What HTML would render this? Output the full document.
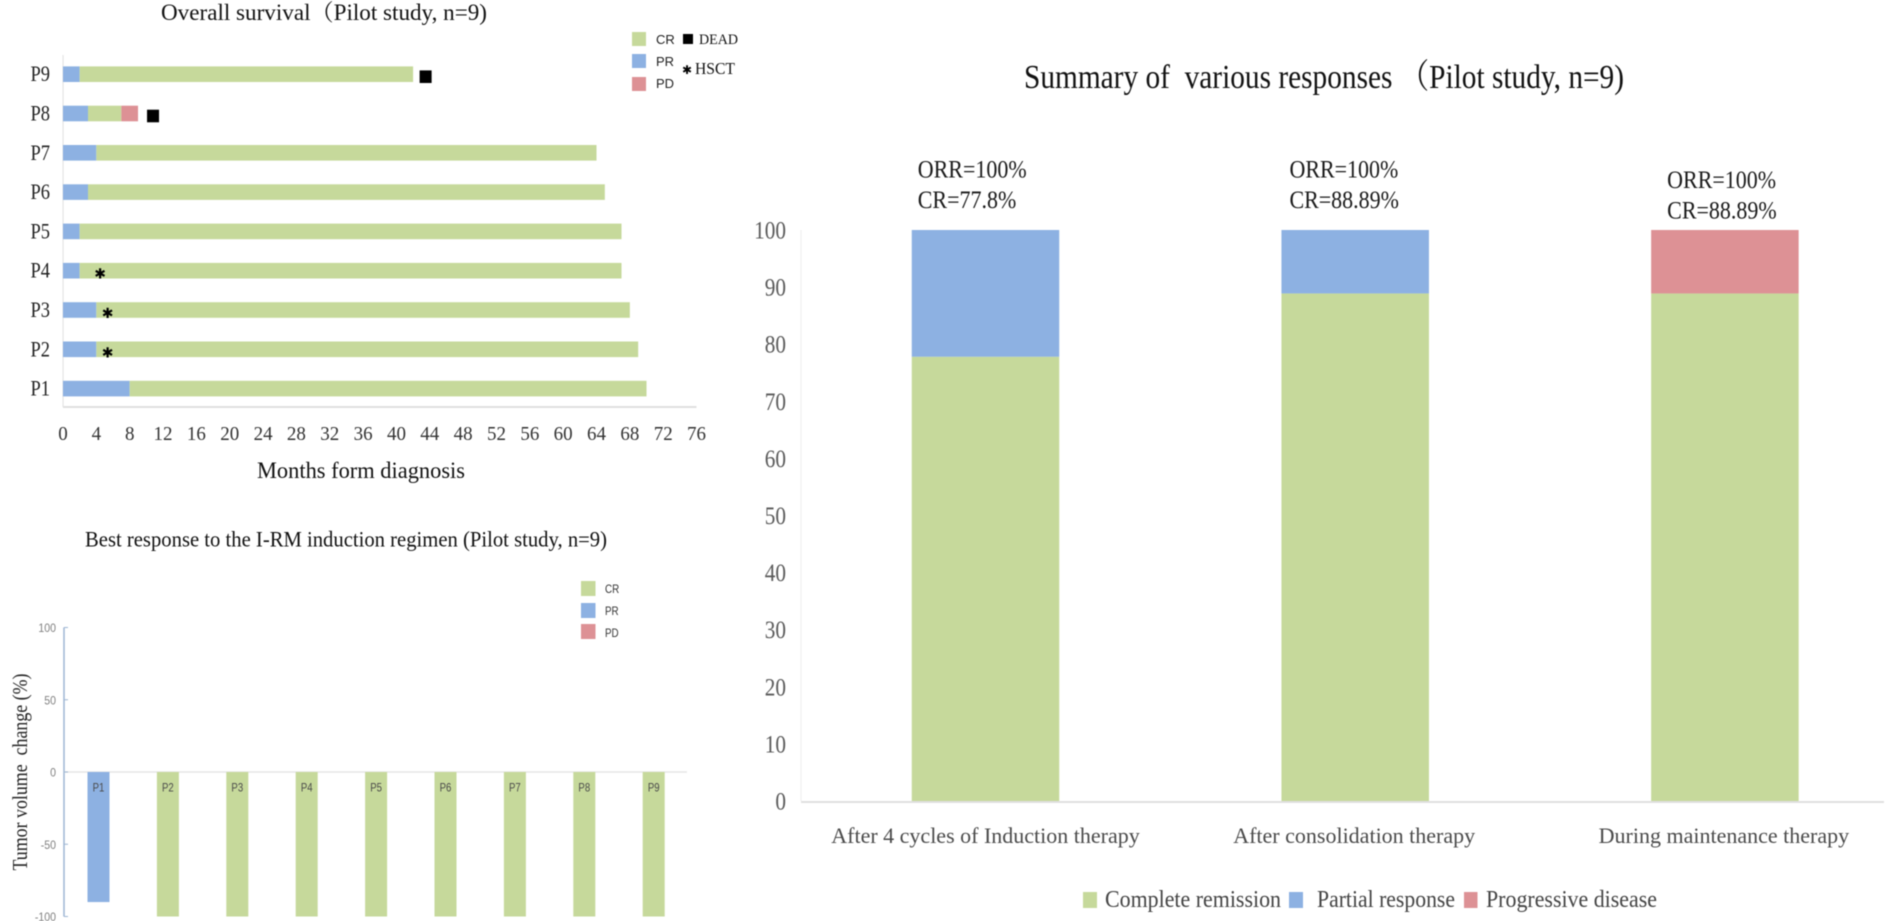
<!DOCTYPE html>
<html lang="en">
<head>
<meta charset="utf-8">
<title>Pilot study response charts</title>
<style>
html,body{margin:0;padding:0;background:#fff;width:1890px;height:921px;overflow:hidden}
svg{display:block;filter:blur(0.45px)}
text{font-family:"Liberation Serif","Noto Serif CJK SC",serif}
.sans{font-family:"Liberation Sans","Noto Sans CJK SC",sans-serif}
.star{font-family:"DejaVu Sans",sans-serif}
</style>
</head>
<body>
<svg id="root" xmlns="http://www.w3.org/2000/svg" width="1890" height="921" viewBox="0 0 1890 921">
  <g id="survival">
    <text x="324" y="20" text-anchor="middle" font-size="23" fill="#111" textLength="326" lengthAdjust="spacingAndGlyphs">Overall survival（Pilot study, n=9)</text>
    <text x="361" y="478" text-anchor="middle" font-size="23" fill="#111" textLength="208" lengthAdjust="spacingAndGlyphs">Months form diagnosis</text>
    <g>
      <rect x="632" y="32" width="14" height="14" fill="#c6d99b"/>
      <text class="sans" x="656" y="44" font-size="13" fill="#222">CR</text>
      <rect x="632" y="54" width="14" height="14" fill="#8db1e2"/>
      <text class="sans" x="656" y="66" font-size="13" fill="#222">PR</text>
      <rect x="632" y="77" width="14" height="14" fill="#dd9195"/>
      <text class="sans" x="656" y="88" font-size="13" fill="#222">PD</text>
      <rect x="683" y="34" width="10" height="10" fill="#000"/>
      <text x="699" y="44" font-size="15" fill="#111" textLength="39" lengthAdjust="spacingAndGlyphs">DEAD</text>
      <text class="star" x="687" y="74" text-anchor="middle" font-size="12" fill="#000">✱</text>
      <text x="695" y="74" font-size="17" fill="#111" textLength="40" lengthAdjust="spacingAndGlyphs">HSCT</text>
    </g>
  </g>
  <g id="best">
    <text x="346" y="546.5" text-anchor="middle" font-size="22" fill="#111" textLength="522" lengthAdjust="spacingAndGlyphs">Best response to the I-RM induction regimen (Pilot study, n=9)</text>
    <text transform="translate(27 772) rotate(-90)" text-anchor="middle" font-size="21" fill="#222" textLength="197" lengthAdjust="spacingAndGlyphs" xml:space="preserve">Tumor volume  change (%)</text>
    <g>
      <rect x="581" y="581" width="14.5" height="15" fill="#c6d99b"/>
      <text class="sans" transform="translate(605 593) scale(.82 1)" font-size="12" fill="#333">CR</text>
      <rect x="581" y="603" width="14.5" height="15" fill="#8db1e2"/>
      <text class="sans" transform="translate(605 615) scale(.82 1)" font-size="12" fill="#333">PR</text>
      <rect x="581" y="624" width="14.5" height="15" fill="#dd9195"/>
      <text class="sans" transform="translate(605 637) scale(.82 1)" font-size="12" fill="#333">PD</text>
    </g>
  </g>
  <g id="summary">
    <text x="1324" y="88" text-anchor="middle" font-size="34" fill="#111" textLength="600" lengthAdjust="spacingAndGlyphs" xml:space="preserve">Summary of  various responses （Pilot study, n=9)</text>
    <g>
      <rect x="1083" y="892" width="14" height="16" fill="#c6d99b"/>
      <text x="1105" y="907" font-size="24" fill="#444" textLength="176" lengthAdjust="spacingAndGlyphs">Complete remission</text>
      <rect x="1289" y="892" width="14" height="16" fill="#8db1e2"/>
      <text x="1317" y="907" font-size="24" fill="#444" textLength="138" lengthAdjust="spacingAndGlyphs">Partial response</text>
      <rect x="1464" y="892" width="13.5" height="16" fill="#dd9195"/>
      <text x="1486" y="907" font-size="24" fill="#444" textLength="171" lengthAdjust="spacingAndGlyphs">Progressive disease</text>
    </g>
  </g>
</svg>
<script>
// Overall survival chart data (P1..P9, months per phase)
const survivalPatients = ['P1','P2','P3','P4','P5','P6','P7','P8','P9'];
const survivalPR = [8,4,4,2,2,3,4,3,2];
const survivalCR = [62,65,64,65,65,62,60,4,40];
const survivalPD = [0,0,0,0,0,0,0,2,0];
const survivalTicks = [0,4,8,12,16,20,24,28,32,36,40,44,48,52,56,60,64,68,72,76];
const deadPatients = ['P9','P8'];
const deadMonths = [43.5,10.8];
const hsctPatients = ['P4','P3','P2'];
const hsctMonths = [4.45,5.35,5.35];

// Best response chart data
const bestPatients = ['P1','P2','P3','P4','P5','P6','P7','P8','P9'];
const bestChange = [-90,-100,-100,-100,-100,-100,-100,-100,-100];
const bestClass = ['PR','CR','CR','CR','CR','CR','CR','CR','CR'];
const bestTicks = [100,50,0,-50,-100];

// Summary chart data
const summaryStages = ['After 4 cycles of Induction therapy','After consolidation therapy','During maintenance therapy'];
const summaryCR = [77.8,88.89,88.89];
const summaryPR = [22.2,11.11,0];
const summaryPD = [0,0,11.11];
const summaryORRLabels = ['ORR=100%','ORR=100%','ORR=100%'];
const summaryCRLabels = ['CR=77.8%','CR=88.89%','CR=88.89%'];
const summaryTicks = [0,10,20,30,40,50,60,70,80,90,100];

const GREEN = '#c6d99b', BLUE = '#8db1e2', RED = '#dd9195';
const NS = 'http://www.w3.org/2000/svg';
function mk(parent, tag, attrs, txt) {
  const n = document.createElementNS(NS, tag);
  for (const k in attrs) n.setAttribute(k, attrs[k]);
  if (txt !== undefined) n.textContent = txt;
  parent.appendChild(n);
  return n;
}
const squeeze = (x, y, s) => 'translate(' + x + ' ' + y + ') scale(' + s + ' 1)';

/* ---------- survival chart ---------- */
const sv = document.getElementById('survival');
const svX = m => 63 + m * 8.336;
const svY = p => 388.6 - survivalPatients.indexOf(p) * 39.3;
const svBarH = 15.6;
let el = mk(sv, 'line', {x1:63, x2:63, y1:55, y2:407, stroke:'#e4e4e4', 'stroke-width':1.2});


el = mk(sv, 'line', {x1:63, x2:696.5, y1:407, y2:407, stroke:'#e0e0e0', 'stroke-width':2});


survivalTicks.forEach(t => {
  const lab = mk(sv, 'text', {transform:squeeze(svX(t), 440, 0.95), 'text-anchor':'middle', 'font-size':20, fill:'#333'}, String(t));
  
  
});
survivalPatients.forEach((p, i) => {
  const cy = svY(p);
  const lab = mk(sv, 'text', {transform:squeeze(50, cy + 7, 0.84), 'text-anchor':'end', 'font-size':22, fill:'#222'}, p);
  
  
  const a = survivalPR[i], b = a + survivalCR[i], c = b + survivalPD[i];
  const pr = mk(sv, 'rect', {x:svX(0), y:cy - svBarH / 2, width:svX(a) - svX(0), height:svBarH, fill:BLUE});
  
  
  const cr = mk(sv, 'rect', {x:svX(a), y:cy - svBarH / 2, width:svX(b) - svX(a), height:svBarH, fill:GREEN});
  
  
  if (survivalPD[i] > 0) {
    const pd = mk(sv, 'rect', {x:svX(b), y:cy - svBarH / 2, width:svX(c) - svX(b), height:svBarH, fill:RED});
    
    
  }
});
deadPatients.forEach((p, i) => {
  const m = mk(sv, 'rect', {x:svX(deadMonths[i]) - 6, y:svY(p) - 3.8, width:12, height:12.6, fill:'#000'});
  
  
});
hsctPatients.forEach((p, i) => {
  const m = mk(sv, 'text', {class:'star', x:svX(hsctMonths[i]), y:svY(p) + 8, 'text-anchor':'middle', 'font-size':14, fill:'#000'}, '✱');
  
  
});

/* ---------- best response chart ---------- */
const bs = document.getElementById('best');
const bsY = v => 772 - v * 1.445;
const bsX = p => 98.5 + bestPatients.indexOf(p) * 69.4;
const bsBarW = 22;
el = mk(bs, 'line', {x1:64, x2:64, y1:bsY(100), y2:bsY(-100), stroke:'#9db5d3', 'stroke-width':1.5});


el = mk(bs, 'line', {x1:64, x2:687, y1:bsY(0), y2:bsY(0), stroke:'#e6e6e6', 'stroke-width':1.5});


bestTicks.forEach(t => {
  const k = mk(bs, 'line', {x1:64, x2:68, y1:bsY(t), y2:bsY(t), stroke:'#9db5d3', 'stroke-width':1});
  
  
  const lab = mk(bs, 'text', {class:'sans', transform:squeeze(56, bsY(t) + 4.5, 0.88), 'text-anchor':'end', 'font-size':12, fill:'#808080'}, String(t));
  
  
});
bestPatients.forEach((p, i) => {
  const bar = mk(bs, 'rect', {x:bsX(p) - bsBarW / 2, y:bsY(0), width:bsBarW, height:bsY(bestChange[i]) - bsY(0), fill:bestClass[i] === 'PR' ? BLUE : GREEN});
  
  
  const lab = mk(bs, 'text', {class:'sans', transform:squeeze(bsX(p), 791.5, 0.8), 'text-anchor':'middle', 'font-size':12, fill:'#4a4a4a'}, p);
  
  
});

/* ---------- summary chart ---------- */
const sm = document.getElementById('summary');
const smY = v => 801 - v * 5.71;
const smX = i => 985.5 + i * 369.7;
const smBarW = 147.5;
el = mk(sm, 'line', {x1:801, x2:801, y1:smY(100), y2:smY(0), stroke:'#eeeeee', 'stroke-width':1});


el = mk(sm, 'line', {x1:801, x2:1884, y1:smY(0) + 1, y2:smY(0) + 1, stroke:'#e0e0e0', 'stroke-width':2});


summaryTicks.forEach(t => {
  const lab = mk(sm, 'text', {transform:squeeze(786, smY(t) + 8.5, 0.85), 'text-anchor':'end', 'font-size':25, fill:'#595959'}, String(t));
  
  
});
summaryStages.forEach((s, i) => {
  const x0 = smX(i) - smBarW / 2;
  const a = summaryCR[i], b = a + summaryPR[i], c = b + summaryPD[i];
  const cr = mk(sm, 'rect', {x:x0, y:smY(a), width:smBarW, height:smY(0) - smY(a), fill:GREEN});
  
  
  if (summaryPR[i] > 0) {
    const pr = mk(sm, 'rect', {x:x0, y:smY(b), width:smBarW, height:smY(a) - smY(b), fill:BLUE});
    
    
  }
  if (summaryPD[i] > 0) {
    const pd = mk(sm, 'rect', {x:x0, y:smY(c), width:smBarW, height:smY(b) - smY(c), fill:RED});
    
    
  }
  const lab = mk(sm, 'text', {x:smX(i) + [0, -1, -1][i], y:843, 'text-anchor':'middle', 'font-size':22, fill:'#4a4a4a'}, s);
  
  
  const left = x0 + [6, 8, 16][i];
  const top = [177.5, 177.5, 188][i];
  const orr = mk(sm, 'text', {transform:squeeze(left, top, 0.88), 'font-size':25, fill:'#1a1a1a'}, summaryORRLabels[i]);
  
  
  const crl = mk(sm, 'text', {transform:squeeze(left, top + 30.5, 0.88), 'font-size':25, fill:'#1a1a1a'}, summaryCRLabels[i]);
  
  
});
</script>
</body>
</html>
